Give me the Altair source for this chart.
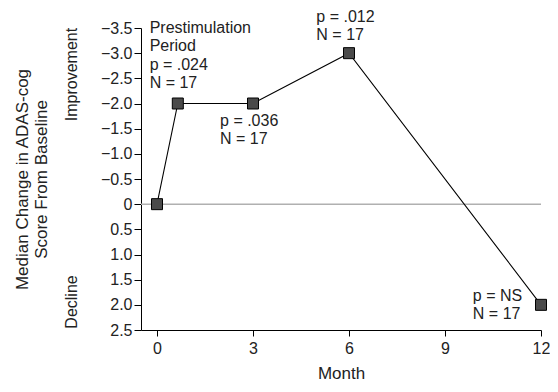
import altair as alt
import pandas as pd

# data
months = [0, 0.65, 3, 6, 12]
change = [0.0, -2.0, -2.0, -3.0, 2.0]

ann_text = ["Prestimulation", "Period", "p = .024", "N = 17",
            "p = .036", "N = 17",
            "p = .012", "N = 17",
            "p = NS", "N = 17"]
ann_x = [-0.23, -0.23, -0.23, -0.23, 1.97, 1.97, 4.98, 4.98, 9.87, 9.87]
ann_y = [-3.5, -3.14, -2.76, -2.4, -1.65, -1.29, -3.72, -3.36, 1.83, 2.19]

x_ticks = [0, 3, 6, 9, 12]
y_ticks = [-3.5, -3.0, -2.5, -2.0, -1.5, -1.0, -0.5, 0, 0.5, 1.0, 1.5, 2.0, 2.5]

side_labels = ["Improvement", "Decline"]

FONT = "Liberation Sans"

df = pd.DataFrame({"month": months, "change": change})
ann = pd.DataFrame({"t": ann_text, "month": ann_x, "change": ann_y})
zdf = pd.DataFrame({"change": [0.0]})

xscale = alt.Scale(domain=[-0.5, 12], nice=False, zero=False)
yscale = alt.Scale(domain=[-3.5, 2.5], reverse=True, nice=False, zero=False)

x_enc = alt.X("month:Q", scale=xscale,
              axis=alt.Axis(values=x_ticks, title="Month"))
y_enc = alt.Y("change:Q", scale=yscale,
              axis=alt.Axis(values=y_ticks,
                            labelExpr="datum.value == 0 ? '0' : format(datum.value, '.1f')",
                            title=["Median Change in ADAS-cog", "Score From Baseline"]))

zero = alt.Chart(zdf).mark_rule(
    color="#b0b0b0", strokeWidth=1.5
).encode(y=y_enc)

line = alt.Chart(df).mark_line(color="black", strokeWidth=1.1).encode(x=x_enc, y=y_enc)

pts = alt.Chart(df).mark_square(
    size=121, fill="#4a4a4a", stroke="black", strokeWidth=1, opacity=1
).encode(x=x_enc, y=y_enc)

txt = alt.Chart(ann).mark_text(
    align="left", baseline="middle", fontSize=16, font=FONT, color="#222"
).encode(x=x_enc, y=y_enc, text="t:N")

side = alt.Chart(pd.DataFrame({"t": side_labels, "py": [46.5, 274]})).mark_text(
    angle=270, align="center", baseline="middle", fontSize=16, font=FONT, color="#222"
).encode(x=alt.value(-69), y=alt.Y("py:Q", scale=None), text="t:N")

chart = alt.layer(zero, line, pts, txt, side).properties(
    width=400, height=302,
    autosize=alt.AutoSizeParams(type="none"),
    padding={"left": 133, "top": 20, "right": 9, "bottom": 54}
).configure_view(stroke=None).configure_axis(
    grid=False, domainColor="black", tickColor="black", labelColor="#222",
    titleColor="#222", labelFont=FONT, titleFont=FONT, labelOverlap=False,
    labelFlush=False, labelFontSize=16, titleFontSize=17, titleFontWeight="normal"
).configure_axisX(
    tickSize=6, labelPadding=4, titlePadding=9
).configure_axisY(
    tickSize=7, labelPadding=2, titlePadding=50
)

chart.save("out.html", embed_options={"renderer": "svg", "actions": False})
